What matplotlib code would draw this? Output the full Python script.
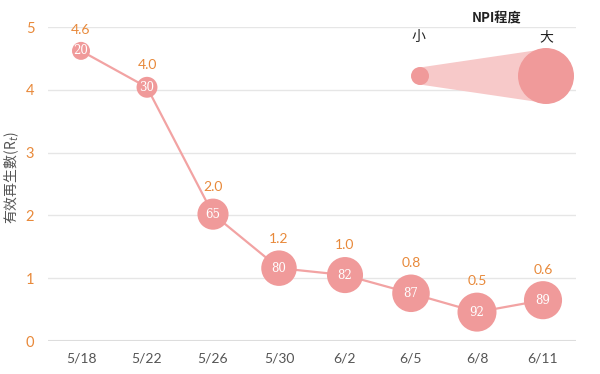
import numpy as np
import matplotlib.pyplot as plt
from matplotlib.patches import Polygon

plt.rcParams['font.family'] = ['Noto Sans CJK TC', 'DejaVu Sans']

# data
dates = ['5/18', '5/22', '5/26', '5/30', '6/2', '6/5', '6/8', '6/11']
rt = [4.62, 4.04, 2.02, 1.16, 1.05, 0.76, 0.46, 0.65]
rt_labels = ['4.6', '4.0', '2.0', '1.2', '1.0', '0.8', '0.5', '0.6']
npi = [20, 30, 65, 80, 82, 87, 92, 89]

PINK = '#F09A9A'
LINE = '#F2A3A3'
ORANGE = '#E8893A'
GRAY = '#555555'

def diam_px(v):
    # bubble diameter in pixels, linear in NPI
    return 18 + (v - 20) * 21.0 / 72.0

fig = plt.figure(figsize=(6, 3.74), dpi=100)
ax = fig.add_axes([0.08, 0.0882, 0.88, 0.8396])

x = np.arange(len(dates))
sizes = [(diam_px(v) * 0.72) ** 2 for v in npi]
ax.plot(x, rt, color=LINE, lw=1.6, zorder=2)
ax.scatter(x, rt, s=sizes, color=PINK, edgecolors='none', zorder=3)

for i in range(len(x)):
    ax.text(x[i], rt[i], str(npi[i]), ha='center', va='center', color='white',
            fontsize=8.5, family='DejaVu Serif', zorder=4)
    ax.annotate(rt_labels[i], (x[i], rt[i]), xytext=(0, diam_px(npi[i]) * 0.36 + 4),
                textcoords='offset points', ha='center', va='bottom',
                color=ORANGE, fontsize=10, family='Lato')

ax.set_xlim(-0.5, 7.5)
ax.set_ylim(0, 5)
ax.set_yticks(range(6))
ax.set_xticks(x)
ax.set_xticklabels(dates)
ax.tick_params(axis='y', colors=ORANGE, labelsize=10.5, length=0, pad=13)
ax.tick_params(axis='x', colors=GRAY, labelsize=10, length=0, pad=8)
for lbl in ax.get_yticklabels():
    lbl.set_family('Lato')
    lbl.set_ha('center')
for lbl in ax.get_xticklabels():
    lbl.set_family('Lato')
ax.grid(axis='y', color='#E6E6E6', lw=1)
ax.set_axisbelow(True)
for sp in ax.spines.values():
    sp.set_visible(False)
ax.axhline(0, color='#DDDDDD', lw=1.5, zorder=1)
ax.set_ylabel('有效再生數(R$_t$)', color=GRAY, fontsize=10)
ax.yaxis.set_label_coords(-0.052, 0.52)

# legend for NPI size, drawn in figure pixels (origin top-left)
H = 374.0
lax = fig.add_axes([0, 0, 1, 1], facecolor='none')
lax.set_xlim(0, 600)
lax.set_ylim(H, 0)
lax.axis('off')

cx1, cx2, cy = 420, 546, 76
r1, r2 = 9, 28
poly = Polygon([(cx1, cy - r1 * 0.95), (cx2, cy - r2 * 0.97),
                (cx2, cy + r2 * 0.97), (cx1, cy + r1 * 0.95)],
               closed=True, facecolor='#F7C9C9', edgecolor='none', zorder=1)
lax.add_patch(poly)
lax.scatter([cx1, cx2], [cy, cy], s=[(2 * r1 * 0.72) ** 2, (2 * r2 * 0.72) ** 2],
            color=PINK, edgecolors='none', zorder=2)
lax.text(497, 18, 'NPI程度', ha='center', va='center', fontsize=9.5,
         fontweight='bold', color='#222222')
lax.text(418, 37, '小', ha='center', va='center', fontsize=10, color='#222222')
lax.text(546, 37, '大', ha='center', va='center', fontsize=10, color='#222222')

fig.savefig('out.png', dpi=100)
